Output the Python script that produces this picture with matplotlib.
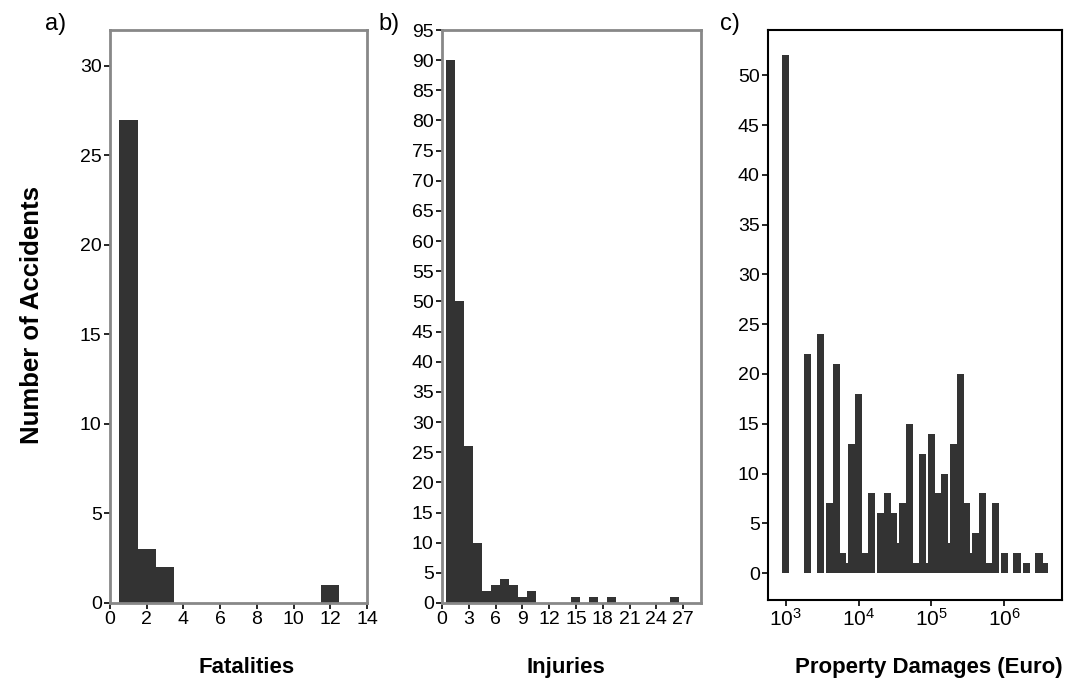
# histograms of accident consequences
import matplotlib.pyplot as plt
import numpy as np

plt.rcParams['font.family'] = ['Liberation Sans', 'DejaVu Sans']
plt.rcParams['mathtext.fontset'] = 'custom'
plt.rcParams['mathtext.rm'] = 'Liberation Sans'
plt.rcParams['mathtext.it'] = 'Liberation Sans'

# a) fatalities per accident
fatal_values = [1, 2, 3, 12]
fatal_counts = [27, 3, 2, 1]

# b) injuries per accident
injury_values = [1, 2, 3, 4, 5, 6, 7, 8, 9, 10, 15, 17, 19, 26]
injury_counts = [90, 50, 26, 10, 2, 3, 4, 3, 1, 2, 1, 1, 1, 1]

# c) property damages (Euro)
damage_values = [1e3, 2e3, 3e3, 4e3, 5e3, 6e3, 7e3, 8e3, 9e3, 1e4,
                 1.2e4, 1.5e4, 2e4, 2.5e4, 3e4, 3.5e4, 4e4, 5e4, 6e4, 7.5e4,
                 9e4, 1e5, 1.2e5, 1.5e5, 1.8e5, 2e5, 2.5e5, 3e5, 3.5e5, 4e5,
                 5e5, 6e5, 7.5e5, 1e6, 1.5e6, 2e6, 3e6, 3.5e6]
damage_counts = [52, 22, 24, 7, 21, 2, 1, 13, 1, 18,
                 2, 8, 6, 8, 6, 3, 7, 15, 1, 12,
                 1, 14, 8, 10, 3, 13, 20, 7, 2, 4,
                 8, 1, 7, 2, 2, 1, 2, 1]

xlabels = ['Fatalities', 'Injuries', 'Property Damages (Euro)']
panel_tags = ['a)', 'b)', 'c)']

bar_color = '#333333'
gray = '#888888'

fig = plt.figure(figsize=(10.66, 6.93), dpi=100)
ax_a = fig.add_axes([0.1032, 0.1299, 0.2411, 0.8268])
ax_b = fig.add_axes([0.4146, 0.1299, 0.2430, 0.8268])
ax_c = fig.add_axes([0.7205, 0.1342, 0.2758, 0.8232])

# a)
ax_a.bar(fatal_values, fatal_counts, width=1.0, color=bar_color, linewidth=0)
ax_a.set_xlim(0, 14)
ax_a.set_ylim(0, 32)
ax_a.set_xticks(np.arange(0, 15, 2))
ax_a.set_yticks(np.arange(0, 31, 5))

# b)
ax_b.bar(injury_values, injury_counts, width=1.0, color=bar_color, linewidth=0)
ax_b.set_xlim(0, 29)
ax_b.set_ylim(0, 95)
ax_b.set_xticks(np.arange(0, 28, 3))
ax_b.set_yticks(np.arange(0, 96, 5))

for ax in (ax_a, ax_b):
    for s in ax.spines.values():
        s.set_color(gray)
        s.set_linewidth(2)

# c) bars of constant width in log space
v = np.array(damage_values)
half = 10 ** 0.052
ax_c.bar(v / half, damage_counts, width=v * half - v / half, align='edge',
         color=bar_color, linewidth=0)
ax_c.set_xscale('log')
ax_c.set_xlim(10 ** 2.76, 10 ** 6.79)
ax_c.set_ylim(-2.7, 54.6)
ax_c.set_xticks([1e3, 1e4, 1e5, 1e6])
ax_c.set_xticklabels([r'$10^{3}$', r'$10^{4}$', r'$10^{5}$', r'$10^{6}$'])
ax_c.minorticks_off()
ax_c.set_yticks(np.arange(0, 51, 5))
for s in ax_c.spines.values():
    s.set_color('black')
    s.set_linewidth(1.5)

for ax in (ax_a, ax_b, ax_c):
    ax.tick_params(direction='out', length=4, width=1.2, labelsize=14,
                   colors='black', pad=2)
ax_c.tick_params(axis='x', labelsize=15)

# axis labels and panel tags
fig.text(0.231, 0.022, xlabels[0], fontsize=16, fontweight='bold', ha='center', va='bottom')
fig.text(0.531, 0.022, xlabels[1], fontsize=16, fontweight='bold', ha='center', va='bottom')
fig.text(0.997, 0.022, xlabels[2], fontsize=16, fontweight='bold', ha='right', va='bottom')
fig.text(0.030, 0.545, 'Number of Accidents', fontsize=18.5, fontweight='bold',
         rotation=90, ha='center', va='center')
fig.text(0.042, 0.965, panel_tags[0], fontsize=17, ha='left', va='center')
fig.text(0.355, 0.965, panel_tags[1], fontsize=17, ha='left', va='center')
fig.text(0.675, 0.965, panel_tags[2], fontsize=17, ha='left', va='center')

fig.savefig('out.png', dpi=100)
